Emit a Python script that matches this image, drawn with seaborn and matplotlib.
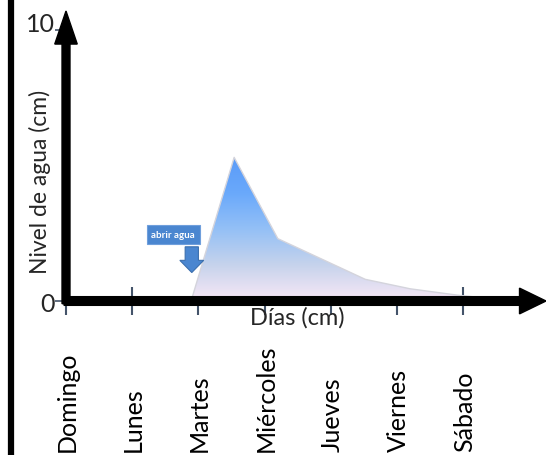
import numpy as np
import matplotlib
matplotlib.use("Agg")
import matplotlib.pyplot as plt
import matplotlib.transforms as mtransforms
from matplotlib.patches import FancyArrow, Rectangle
from matplotlib.lines import Line2D
from matplotlib.colors import LinearSegmentedColormap
import seaborn as sns

# Days of the week shown on the horizontal axis
dias = ["Domingo", "Lunes", "Martes", "Miércoles", "Jueves", "Viernes", "Sábado"]

# Water level readings (time in days from Sunday, level in cm)
momento = [1.89, 2.54, 3.2, 4.52, 5.2, 5.9, 6.45]
nivel = [0.0, 5.3, 2.3, 0.8, 0.45, 0.22, 0.08]

y_ticks = [0, 10]
y_tick_labels = ["0", "10"]

sns.set_theme(style="white")
plt.rcParams["font.family"] = ["Lato", "DejaVu Sans"]

fig = plt.figure(figsize=(5.46, 4.56), dpi=100)
ax = fig.add_axes([66 / 546, 154 / 456, 480 / 546, 290 / 456])
x_max = 480 / 66.2
y_max = 290 / 27.1
ax.set_xlim(0, x_max)
ax.set_ylim(0, y_max)
for s in ax.spines.values():
    s.set_visible(False)

# Gradient-filled area under the water level curve
poly = ax.fill_between(momento, nivel, 0, color="none", lw=0)
cmap = LinearSegmentedColormap.from_list(
    "agua", ["#f8e8f6", "#c6d3ec", "#94c0f6", "#6aa9fb", "#5a9bf8"])
grad = np.linspace(0, 1, 256).reshape(-1, 1)
img = ax.imshow(grad, cmap=cmap, origin="lower", aspect="auto",
                extent=[min(momento), max(momento), 0, max(nivel)], zorder=1)
path = poly.get_paths()[0]
img.set_clip_path(path, transform=ax.transData)
ax.set_xlim(0, x_max)
ax.set_ylim(0, y_max)
sns.lineplot(x=momento, y=nivel, ax=ax, color="#d4d4dc", lw=1.0, zorder=2,
             sort=False)

# Axes drawn as thick black arrows
ax.add_patch(FancyArrow(-0.03, 0, x_max + 0.03, 0, width=0.32, head_width=0.95,
                        head_length=0.4, length_includes_head=True,
                        color="black", clip_on=False, zorder=3))
ax.add_patch(FancyArrow(0, -0.1, 0, y_max + 0.1, width=0.12, head_width=0.34,
                        head_length=1.22, length_includes_head=True,
                        color="black", clip_on=False, zorder=3))

# Ticks
ax.set_xticks(range(len(dias)))
ax.set_xticklabels([])
ax.tick_params(axis="x", which="both", bottom=True, direction="inout",
               length=20, width=1.5, color="#44546a")
ax.set_yticks(y_ticks)
ax.set_yticklabels(y_tick_labels, fontsize=18)
ax.tick_params(axis="y", which="both", left=True, direction="out",
               length=8, width=1.2, color="#44546a", pad=0)
for t in ax.xaxis.get_major_ticks():
    t.tick1line.set_zorder(4)
# the top label sits slightly above its tick
top_lbl = ax.get_yticklabels()[-1]
top_lbl.set_transform(top_lbl.get_transform() +
                      mtransforms.ScaledTranslation(0, 9 / 100, fig.dpi_scale_trans))

# Day names, rotated and aligned at the bottom of the figure
trans = mtransforms.blended_transform_factory(ax.transData, fig.transFigure)
for i, d in enumerate(dias):
    ax.text(i + 0.02, 4 / 456, d, rotation=90, ha="center", va="bottom",
            fontsize=18, transform=trans, color="black")

ax.set_xlabel("Días (cm)", fontsize=17)
ax.xaxis.set_label_coords(0.482, -5 / 290, transform=ax.transAxes)
ax.xaxis.label.set_va("top")
ax.set_ylabel("Nivel de agua (cm)", fontsize=16.5)
ax.yaxis.set_label_coords(-15 / 480, 0.415)
ax.yaxis.label.set_va("bottom")

# "abrir agua" callout with a downward block arrow
ax.add_patch(Rectangle((1.22, 2.1), 0.8, 0.7, facecolor="#4a86d0",
                       edgecolor="#6f9fdc", lw=0.8, zorder=4))
ax.text(1.62, 2.45, "abrir agua", color="white", fontsize=7,
        fontweight="bold", ha="center", va="center", zorder=5)
ax.add_patch(FancyArrow(1.9, 2.0, 0, -0.95, width=0.2, head_width=0.36,
                        head_length=0.45, length_includes_head=True,
                        facecolor="#4a86d0", edgecolor="#3b6fae", lw=0.8,
                        zorder=4))

# Vertical rule on the left edge
fig.add_artist(Line2D([10.5 / 546, 10.5 / 546], [0, 1], color="black", lw=4.5))

fig.savefig("out.png", dpi=100)
